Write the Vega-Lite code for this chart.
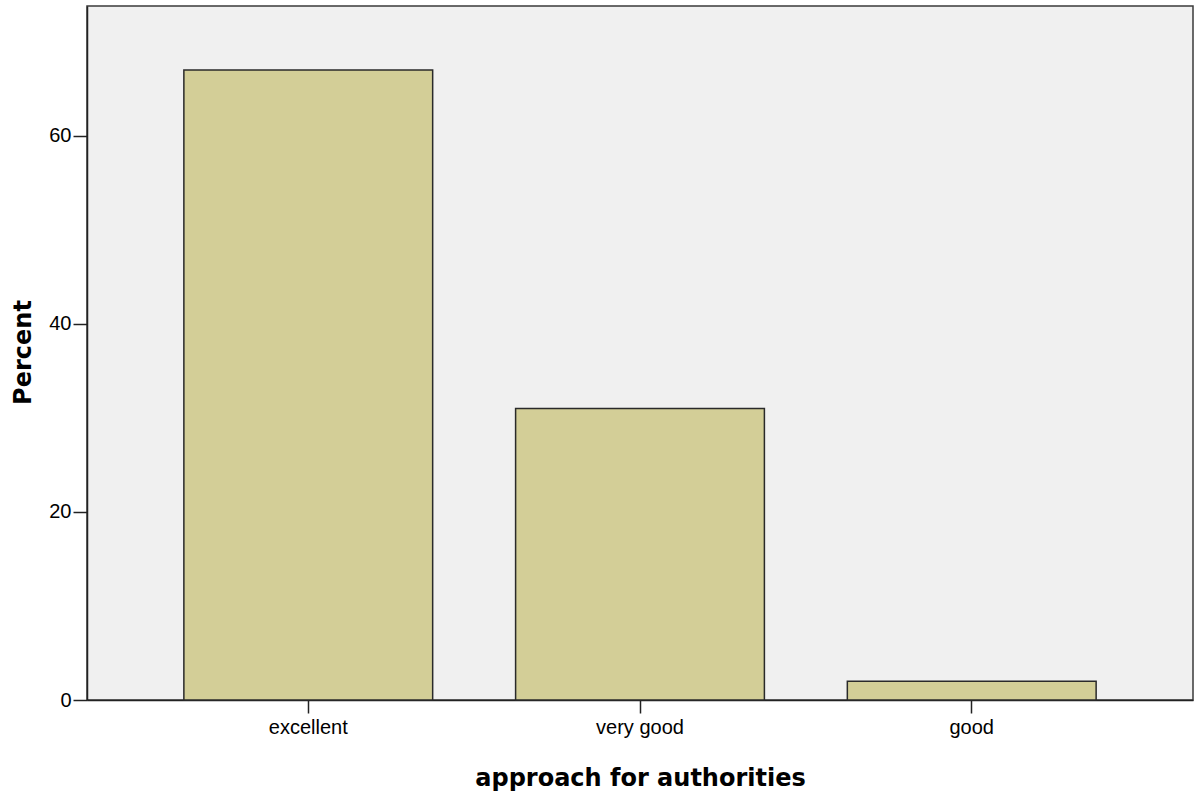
{
  "$schema": "https://vega.github.io/schema/vega-lite/v6.json",
  "autosize": {"type": "none"},
  "padding": {"left": 87, "top": 6, "right": 2, "bottom": 94},
  "width": 1106,
  "height": 694,
  "background": "#ffffff",
  "config": {
    "view": {"fill": "#F0F0F0", "stroke": "#3a3a3a", "strokeWidth": 1.5}
  },
  "data": {
    "values": [
      {"approach": "excellent", "percent": 67.0},
      {"approach": "very good", "percent": 31.0},
      {"approach": "good", "percent": 2.0}
    ]
  },
  "mark": {"type": "bar", "fill": "#D3CE97", "stroke": "#2a2a2a", "strokeWidth": 1.5},
  "encoding": {
    "x": {
      "field": "approach",
      "type": "nominal",
      "sort": ["excellent", "very good", "good"],
      "scale": {"paddingInner": 0.25, "paddingOuter": 0.292},
      "axis": {
        "title": "approach for authorities",
        "titleFont": "DejaVu Sans",
        "titleFontWeight": "bold",
        "titleFontSize": 24,
        "titleColor": "#000000",
        "titleX": 553,
        "titleY": 78,
        "titleAlign": "center",
        "titleBaseline": "middle",
        "labelAngle": 0,
        "labelFont": "Liberation Sans",
        "labelFontSize": 20,
        "labelColor": "#000000",
        "labelPadding": 4,
        "tickSize": 13,
        "tickColor": "#222222",
        "tickWidth": 1.5,
        "domainColor": "#222222",
        "domainWidth": 1.5,
        "grid": false
      }
    },
    "y": {
      "field": "percent",
      "type": "quantitative",
      "scale": {"domain": [0, 73.8], "nice": false},
      "axis": {
        "title": "Percent",
        "values": [0, 20, 40, 60],
        "titleFont": "DejaVu Sans",
        "titleFontWeight": "bold",
        "titleFontSize": 24,
        "titleColor": "#000000",
        "titleX": -64,
        "titleY": 346,
        "titleAngle": -90,
        "titleAlign": "center",
        "titleBaseline": "middle",
        "labelFont": "Liberation Sans",
        "labelFontSize": 20,
        "labelColor": "#000000",
        "labelPadding": 2,
        "tickSize": 14,
        "tickColor": "#222222",
        "tickWidth": 1.5,
        "domainColor": "#222222",
        "domainWidth": 1.5,
        "grid": false
      }
    }
  }
}
